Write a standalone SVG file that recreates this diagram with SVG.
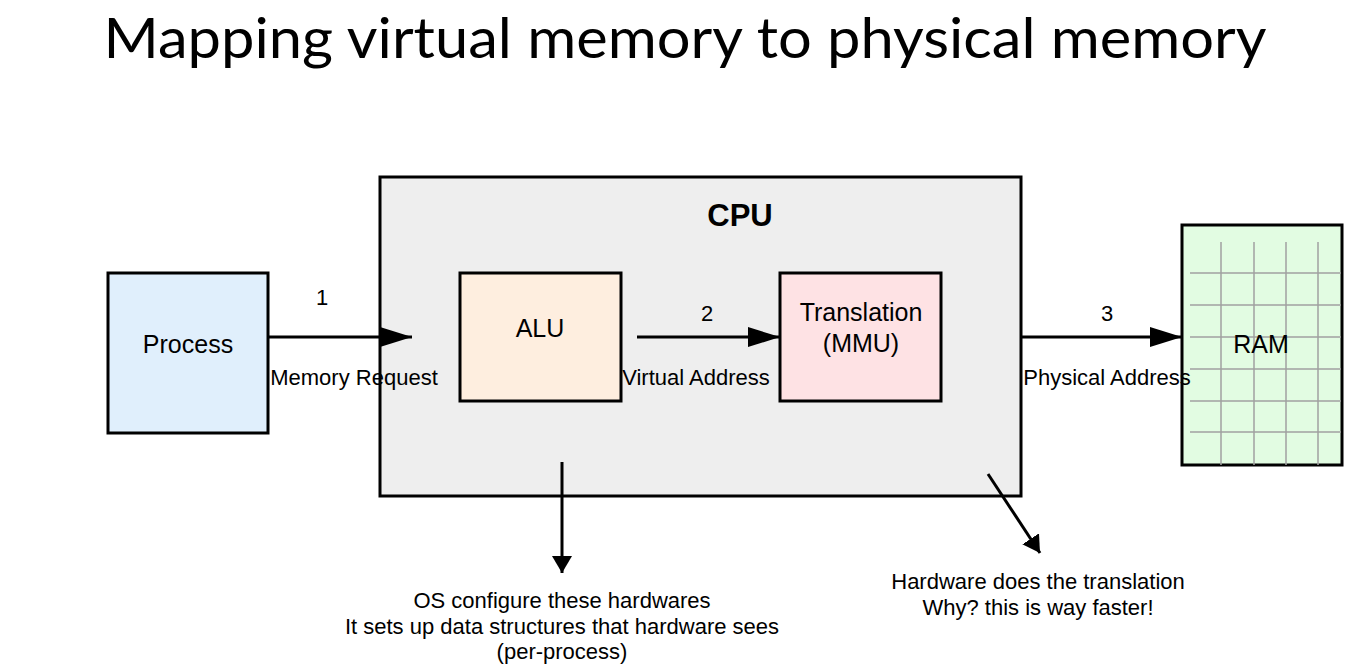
<svg xmlns="http://www.w3.org/2000/svg" width="1371" height="672" viewBox="0 0 1371 672">
  <style>
    .box { stroke: #000; stroke-width: 3; }
    .lbl { font-family: "Liberation Sans", Arial, sans-serif; font-size: 25px; fill: #000; text-anchor: middle; }
    .sm { font-family: "Liberation Sans", Arial, sans-serif; font-size: 22px; fill: #000; text-anchor: middle; }
    .conn { stroke: #000; stroke-width: 3; fill: none; }
    .grid { stroke: #a0a0a0; stroke-width: 1.5; }
  </style>
  <defs>
    <marker id="ah" markerUnits="userSpaceOnUse" markerWidth="32" markerHeight="20" refX="32" refY="10" orient="auto">
      <path d="M0,0 L32,10 L0,20 Z" fill="#000"/>
    </marker>
    <marker id="ahs" markerUnits="userSpaceOnUse" markerWidth="20" markerHeight="20" refX="17" refY="10" orient="auto">
      <path d="M0,0 L17,10 L0,20 Z" fill="#000"/>
    </marker>
  </defs>
  <rect width="1371" height="672" fill="#fff"/>
  <text x="685" y="58" font-family="Lato, 'Noto Sans', sans-serif" font-size="56" text-anchor="middle" textLength="1163" lengthAdjust="spacingAndGlyphs" fill="#000">Mapping virtual memory to physical memory</text>

  <g id="cpu">
    <rect class="box" x="380" y="177" width="641" height="319" fill="#eeeeee"/>
    <text x="740" y="226" font-family="'Liberation Sans', Arial, sans-serif" font-size="31" font-weight="bold" text-anchor="middle" fill="#000">CPU</text>
  </g>
  <g id="process">
    <rect class="box" x="108" y="273" width="160" height="160" fill="#e0effc"/>
    <text class="lbl" x="188" y="353">Process</text>
  </g>
  <g id="alu">
    <rect class="box" x="460" y="273" width="161" height="128" fill="#feeedf"/>
    <text class="lbl" x="540" y="337">ALU</text>
  </g>
  <g id="mmu">
    <rect class="box" x="780" y="273" width="161" height="128" fill="#fee2e4"/>
    <text class="lbl" x="861" y="321">Translation</text>
    <text class="lbl" x="861" y="352">(MMU)</text>
  </g>
  <g id="ram">
    <rect class="box" x="1182" y="225" width="160" height="240" fill="#e2fce2"/>
    <g class="grid">
      <line x1="1221" y1="242" x2="1221" y2="465"/>
      <line x1="1254" y1="242" x2="1254" y2="465"/>
      <line x1="1286" y1="242" x2="1286" y2="465"/>
      <line x1="1318" y1="242" x2="1318" y2="465"/>
      <line x1="1190" y1="273" x2="1341" y2="273"/>
      <line x1="1190" y1="305" x2="1341" y2="305"/>
      <line x1="1190" y1="337" x2="1341" y2="337"/>
      <line x1="1190" y1="369" x2="1341" y2="369"/>
      <line x1="1190" y1="401" x2="1341" y2="401"/>
      <line x1="1190" y1="432" x2="1341" y2="432"/>
    </g>
    <text class="lbl" x="1261" y="353">RAM</text>
  </g>

  <g id="connectors">
    <line class="conn" x1="268" y1="337" x2="412" y2="337" marker-end="url(#ah)"/>
    <text class="sm" x="322" y="305">1</text>
    <text class="sm" x="354" y="385">Memory Request</text>

    <line class="conn" x1="637" y1="337" x2="780" y2="337" marker-end="url(#ah)"/>
    <text class="sm" x="707" y="321">2</text>
    <text class="sm" x="696" y="385">Virtual Address</text>

    <line class="conn" x1="1021" y1="337" x2="1182" y2="337" marker-end="url(#ah)"/>
    <text class="sm" x="1107" y="321">3</text>
    <text class="sm" x="1107" y="385">Physical Address</text>

    <line class="conn" x1="562" y1="462" x2="562" y2="573" marker-end="url(#ahs)"/>
    <line class="conn" x1="988" y1="474" x2="1040" y2="553" marker-end="url(#ahs)"/>
  </g>

  <g id="notes">
    <text class="sm" x="562" y="608">OS configure these hardwares</text>
    <text class="sm" x="562" y="634">It sets up data structures that hardware sees</text>
    <text class="sm" x="562" y="659">(per-process)</text>
    <text class="sm" x="1038" y="589">Hardware does the translation</text>
    <text class="sm" x="1038" y="615">Why? this is way faster!</text>
  </g>
</svg>
